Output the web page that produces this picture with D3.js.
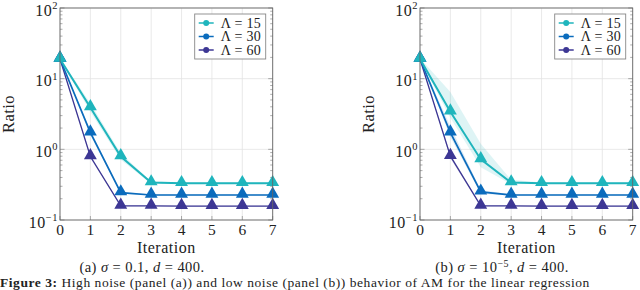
<!DOCTYPE html>
<html>
<head>
<meta charset="utf-8">
<script src="https://cdn.jsdelivr.net/npm/d3@7"></script>
<style>
  body { margin: 0; background: #fff; }
  svg { display: block; }
  text { font-family: "Liberation Serif", "Times New Roman", serif; }
</style>
</head>
<body>
<svg id="chart" width="640" height="290"></svg>
<script>
// data
const iterations = [0, 1, 2, 3, 4, 5, 6, 7];
const lambdas = ["15", "30", "60"];
const colors = ["#1fb5bd", "#0b6cbd", "#3d3794"];

// panel (a): sigma = 0.1
const a15 = [19, 3.9, 0.79, 0.338, 0.33, 0.33, 0.33, 0.33];
const a30 = [19, 1.72, 0.244, 0.226, 0.226, 0.226, 0.226, 0.226];
const a60 = [19, 0.79, 0.158, 0.158, 0.157, 0.157, 0.157, 0.157];
const a15lo = [18.5, 3.4, 0.71, 0.325, 0.322, 0.322, 0.322, 0.322];
const a15hi = [19.5, 4.5, 0.88, 0.35, 0.338, 0.338, 0.338, 0.338];
const a30lo = [18.8, 1.6, 0.236, 0.222, 0.222, 0.222, 0.222, 0.222];
const a30hi = [19.2, 1.85, 0.252, 0.23, 0.23, 0.23, 0.23, 0.23];
const a60lo = [18.8, 0.75, 0.155, 0.155, 0.155, 0.155, 0.155, 0.155];
const a60hi = [19.2, 0.83, 0.161, 0.161, 0.16, 0.16, 0.16, 0.16];

// panel (b): sigma = 1e-5
const b15 = [19, 3.4, 0.72, 0.338, 0.33, 0.33, 0.33, 0.33];
const b30 = [19, 1.72, 0.25, 0.226, 0.226, 0.226, 0.226, 0.226];
const b60 = [19, 0.8, 0.158, 0.158, 0.157, 0.157, 0.157, 0.157];
const b15lo = [18.5, 2.8, 0.56, 0.32, 0.322, 0.322, 0.322, 0.322];
const b15hi = [19.5, 6.5, 1.2, 0.37, 0.34, 0.338, 0.338, 0.338];
const b30lo = [18.8, 1.5, 0.236, 0.222, 0.222, 0.222, 0.222, 0.222];
const b30hi = [19.2, 2.1, 0.265, 0.23, 0.23, 0.23, 0.23, 0.23];
const b60lo = [18.8, 0.74, 0.155, 0.155, 0.155, 0.155, 0.155, 0.155];
const b60hi = [19.2, 0.86, 0.161, 0.161, 0.16, 0.16, 0.16, 0.16];

const yTicks = [0.1, 1, 10, 100];
const yTickExp = ["\u22121", "0", "1", "2"];

const svg = d3.select("#chart");

function panel(left, series, bands, caption) {
  const x = d3.scaleLinear().domain([0, 7]).range([left, left + 212.7]);
  const y = d3.scaleLog().domain([0.1, 100]).range([220, 8]);
  const g = svg.append("g");

  // grid
  g.selectAll(".gx").data(iterations).enter().append("line")
    .attr("x1", d => x(d)).attr("x2", d => x(d))
    .attr("y1", y(100)).attr("y2", y(0.1))
    .attr("stroke", "#e3e3e3").attr("stroke-width", 0.8);
  g.selectAll(".gy").data(yTicks).enter().append("line")
    .attr("x1", x(0)).attr("x2", x(7))
    .attr("y1", d => y(d)).attr("y2", d => y(d))
    .attr("stroke", "#e3e3e3").attr("stroke-width", 0.8);

  // minor log ticks, both sides
  const minors = [];
  [0.1, 1, 10].forEach(dec => { for (let k = 2; k <= 9; k++) minors.push(dec * k); });
  [[x(0), 2.5], [x(7), -2.5]].forEach(([px, len]) => {
    g.selectAll(null).data(minors).enter().append("line")
      .attr("x1", px).attr("x2", px + len)
      .attr("y1", d => y(d)).attr("y2", d => y(d))
      .attr("stroke", "#777").attr("stroke-width", 0.6);
    g.selectAll(null).data(yTicks).enter().append("line")
      .attr("x1", px).attr("x2", px + len * 1.8)
      .attr("y1", d => y(d)).attr("y2", d => y(d))
      .attr("stroke", "#777").attr("stroke-width", 0.6);
  });
  g.selectAll(null).data(iterations).enter().append("line")
    .attr("x1", d => x(d)).attr("x2", d => x(d))
    .attr("y1", y(0.1)).attr("y2", y(0.1) - 4)
    .attr("stroke", "#777").attr("stroke-width", 0.6);

  const line = d3.line().x((d, i) => x(iterations[i])).y(d => y(d));
  const area = d3.area()
    .x((d, i) => x(iterations[i]))
    .y0(d => y(d[0])).y1(d => y(d[1]));
  const tri = d3.symbol().type(d3.symbolTriangle).size(72);

  // draw 60 first so 15 ends up on top
  for (let s = 2; s >= 0; s--) {
    g.append("path").attr("d", line(series[s]))
      .attr("fill", "none").attr("stroke", colors[s])
      .attr("stroke-width", s === 0 ? 2 : (s === 1 ? 1.7 : 1.3));
    g.selectAll(null).data(series[s]).enter().append("path")
      .attr("d", tri)
      .attr("transform", (d, i) => `translate(${x(iterations[i])},${y(d) - 1})`)
      .attr("fill", colors[s]);
  }
  for (let s = 2; s >= 0; s--) {
    const b = bands[s][0].map((lo, i) => [lo, bands[s][1][i]]);
    g.append("path").attr("d", area(b))
      .attr("fill", colors[s]).attr("fill-opacity", 0.15);
  }

  // frame
  g.append("rect").attr("x", x(0)).attr("y", y(100))
    .attr("width", x(7) - x(0)).attr("height", y(0.1) - y(100))
    .attr("fill", "none").attr("stroke", "#666").attr("stroke-width", 0.9);

  // x tick labels
  g.selectAll(null).data(iterations).enter().append("text")
    .attr("x", d => x(d)).attr("y", 234.5)
    .attr("text-anchor", "middle").attr("font-size", 15.5).attr("fill", "#222")
    .text(d => d);

  // y tick labels
  yTicks.forEach((t, i) => {
    const tx = g.append("text").attr("x", x(0) - 2).attr("y", y(t) + 7.5)
      .attr("text-anchor", "end").attr("fill", "#222").attr("font-size", 16)
      .attr("letter-spacing", 0.5);
    tx.append("tspan").text("10");
    tx.append("tspan").attr("dy", -6.5).attr("font-size", 10.5).text(yTickExp[i]);
  });

  // axis titles
  g.append("text").attr("x", (x(0) + x(7)) / 2).attr("y", 252.5)
    .attr("text-anchor", "middle").attr("font-size", 16).attr("fill", "#222")
    .attr("letter-spacing", 0.5)
    .text("Iteration");
  g.append("text")
    .attr("transform", `translate(${left - 46},114) rotate(-90)`)
    .attr("text-anchor", "middle").attr("font-size", 16.5).attr("fill", "#222")
    .attr("letter-spacing", 0.4)
    .text("Ratio");

  // legend
  const lx = x(7) - 78, ly = 14;
  g.append("rect").attr("x", lx).attr("y", ly).attr("width", 71).attr("height", 45)
    .attr("fill", "#fff").attr("stroke", "#888").attr("stroke-width", 0.9);
  lambdas.forEach((l, i) => {
    const yy = ly + 9 + i * 13.5;
    g.append("line").attr("x1", lx + 4).attr("x2", lx + 19)
      .attr("y1", yy).attr("y2", yy).attr("stroke", colors[i]).attr("stroke-width", 1.5);
    g.append("circle").attr("cx", lx + 11.5).attr("cy", yy).attr("r", 3).attr("fill", colors[i]);
    g.append("text").attr("x", lx + 26).attr("y", yy + 4.5)
      .attr("font-size", 14).attr("fill", "#222").attr("letter-spacing", 0.3)
      .text("\u039B = " + l);
  });

  // caption
  const cap = g.append("text").attr("x", caption.cx).attr("y", 272)
    .attr("text-anchor", "middle").attr("font-size", 14.5).attr("fill", "#222")
    .attr("letter-spacing", 0.45);
  caption.parts.forEach(p => {
    const t = cap.append("tspan").text(p.t);
    if (p.it) t.attr("font-style", "italic");
    if (p.sup) t.attr("dy", -5).attr("font-size", 10);
    if (p.down) t.attr("dy", 5);
  });
}

panel(60, [a15, a30, a60], [[a15lo, a15hi], [a30lo, a30hi], [a60lo, a60hi]], {
  cx: 142,
  parts: [{ t: "(a) " }, { t: "\u03C3", it: true }, { t: " = 0.1, " }, { t: "d", it: true }, { t: " = 400." }]
});
panel(420, [b15, b30, b60], [[b15lo, b15hi], [b30lo, b30hi], [b60lo, b60hi]], {
  cx: 502,
  parts: [{ t: "(b) " }, { t: "\u03C3", it: true }, { t: " = 10" }, { t: "\u22125", sup: true },
          { t: ", ", down: true }, { t: "d", it: true }, { t: " = 400." }]
});

// figure caption along the bottom edge
const fig = svg.append("text").attr("x", 0).attr("y", 286.5)
  .attr("font-size", 13.5).attr("fill", "#222").attr("letter-spacing", 0.55);
fig.append("tspan").attr("font-weight", "bold").text("Figure 3: ");
fig.append("tspan").text("High noise (panel (a)) and low noise (panel (b)) behavior of AM for the linear regression");
</script>
</body>
</html>
